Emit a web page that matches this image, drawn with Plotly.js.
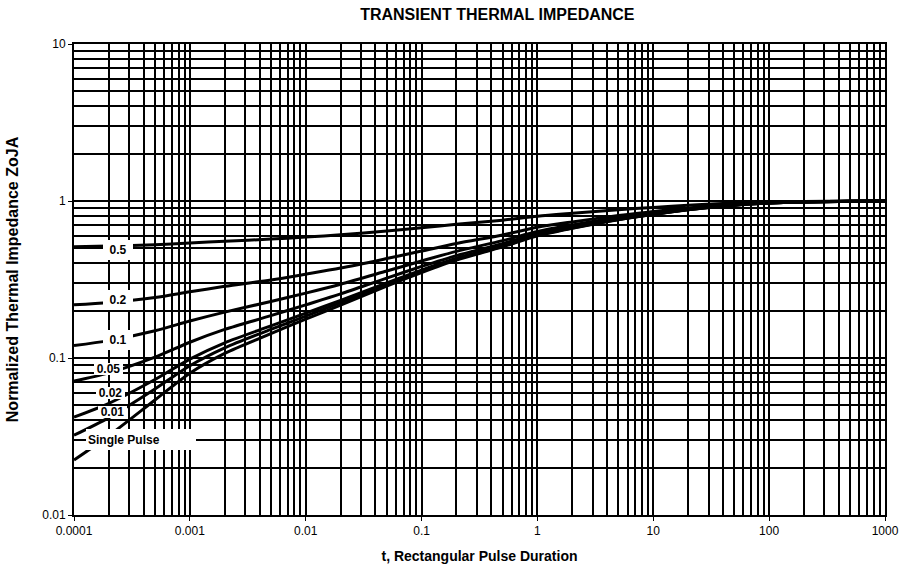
<!DOCTYPE html>
<html>
<head>
<meta charset="utf-8">
<script src="https://cdn.plot.ly/plotly-3.0.1.min.js"></script>
<style>html,body{margin:0;padding:0;background:#fff;}#chart{width:901px;height:568px;}</style>
</head>
<body>
<div id="chart"></div>
<script>
// Pulse duration (s)
const pulseT = [1e-4, 2e-4, 5e-4, 1e-3, 2e-3, 5e-3, 1e-2, 2e-2, 5e-2, 0.1, 0.2, 0.5, 1, 2, 5, 10, 20, 50, 100, 200, 500, 1000];
// Normalized thermal impedance, one series per duty cycle
const zD050 = [0.511, 0.516, 0.527, 0.540, 0.554, 0.572, 0.589, 0.609, 0.644, 0.675, 0.710, 0.755, 0.800, 0.835, 0.880, 0.910, 0.940, 0.970, 0.985, 0.993, 0.998, 1.0];
const zD020 = [0.218, 0.226, 0.243, 0.264, 0.286, 0.314, 0.342, 0.374, 0.430, 0.480, 0.536, 0.608, 0.680, 0.736, 0.808, 0.856, 0.904, 0.952, 0.976, 0.988, 0.996, 1.0];
const zD010 = [0.120, 0.129, 0.149, 0.172, 0.196, 0.229, 0.259, 0.295, 0.358, 0.415, 0.478, 0.559, 0.640, 0.703, 0.784, 0.838, 0.892, 0.946, 0.973, 0.987, 0.996, 1.0];
const zD005 = [0.0713, 0.0804, 0.1013, 0.126, 0.152, 0.186, 0.218, 0.256, 0.323, 0.383, 0.449, 0.535, 0.620, 0.687, 0.772, 0.829, 0.886, 0.943, 0.972, 0.986, 0.995, 1.0];
const zD002 = [0.042, 0.0514, 0.0729, 0.0984, 0.125, 0.160, 0.193, 0.233, 0.301, 0.363, 0.432, 0.520, 0.608, 0.677, 0.765, 0.824, 0.882, 0.941, 0.971, 0.985, 0.995, 1.0];
const zD001 = [0.0322, 0.0417, 0.0635, 0.0892, 0.116, 0.152, 0.185, 0.225, 0.294, 0.357, 0.426, 0.515, 0.604, 0.673, 0.762, 0.822, 0.881, 0.941, 0.970, 0.985, 0.995, 1.0];
const zSingle = [0.0224, 0.032, 0.054, 0.080, 0.107, 0.143, 0.177, 0.217, 0.287, 0.350, 0.420, 0.510, 0.600, 0.670, 0.760, 0.820, 0.880, 0.940, 0.970, 0.985, 0.995, 1.0];
const curveLabels = ['0.5', '0.2', '0.1', '0.05', '0.02', '0.01', 'Single Pulse'];
const xTickVals = [1e-4, 1e-3, 1e-2, 1e-1, 1, 10, 100, 1000];
const xTickText = ['0.0001', '0.001', '0.01', '0.1', '1', '10', '100', '1000'];
const yTickVals = [0.01, 0.1, 1, 10];
const yTickText = ['0.01', '0.1', '1', '10'];

const series = [zD050, zD020, zD010, zD005, zD002, zD001, zSingle];

function minorVals(lo, hi) {
  const out = [];
  for (let e = lo; e < hi; e++) {
    for (let d = 2; d <= 9; d++) out.push(d * Math.pow(10, e));
  }
  return out;
}

const traces = series.map((ys, i) => ({
  x: pulseT, y: ys, type: 'scatter', mode: 'lines', name: curveLabels[i],
  line: {color: '#000', width: 3, shape: 'spline', smoothing: 0.8},
  hoverinfo: 'skip', showlegend: false
}));

// label positions in log10 axis units
const labelPos = [
  {x: -3.620, y: -0.312, w: 26, h: 16, pad: 2, align: 'center'},
  {x: -3.620, y: -0.631, w: 26, h: 16, pad: 2, align: 'center'},
  {x: -3.620, y: -0.885, w: 26, h: 16, pad: 2, align: 'center'},
  {x: -3.698, y: -1.070, w: 27, h: 10, pad: 1, align: 'center'},
  {x: -3.689, y: -1.220, w: 27, h: 10, pad: 1, align: 'center'},
  {x: -3.668, y: -1.341, w: 27, h: 10, pad: 1, align: 'center'},
  {x: -3.422, y: -1.519, w: 106, h: 17, pad: 2, align: 'left'}
];

const labelFont = {family: 'Liberation Sans, Arial, sans-serif', size: 12, color: '#000', weight: 'bold'};

const annotations = curveLabels.map((t, i) => ({
  xref: 'x', yref: 'y', x: labelPos[i].x, y: labelPos[i].y,
  text: '<b>' + t + '</b>', showarrow: false,
  xanchor: 'center', yanchor: 'middle',
  bgcolor: '#fff', borderpad: labelPos[i].pad, borderwidth: 0,
  width: labelPos[i].w, height: labelPos[i].h, align: labelPos[i].align,
  font: labelFont
}));

const axisCommon = {
  type: 'log', showgrid: true, gridcolor: '#000', gridwidth: 2,
  showline: true, linecolor: '#000', linewidth: 2, mirror: true,
  ticks: 'outside', ticklen: 4, tickwidth: 1, tickcolor: '#000',
  tickmode: 'array', zeroline: false,
  tickfont: {family: 'Liberation Sans, Arial, sans-serif', size: 12, color: '#000'}
};

const layout = {
  width: 901, height: 568,
  margin: {l: 74, r: 16, t: 44, b: 53},
  paper_bgcolor: '#fff', plot_bgcolor: 'rgba(0,0,0,0)',
  title: {
    text: '<b>TRANSIENT THERMAL IMPEDANCE</b>',
    xref: 'paper', x: 0.522, xanchor: 'center',
    yref: 'container', y: 0.974, yanchor: 'middle',
    font: {family: 'Liberation Sans, Arial, sans-serif', size: 16, color: '#000'}
  },
  xaxis: Object.assign({}, axisCommon, {
    range: [-4, 3], tickvals: xTickVals, ticktext: xTickText,
    minor: {tickmode: 'array', tickvals: minorVals(-4, 3), showgrid: true, gridcolor: '#000', gridwidth: 2, ticks: ''},
    title: {text: '<b>t, Rectangular Pulse Duration</b>', standoff: 14,
      font: {family: 'Liberation Sans, Arial, sans-serif', size: 14, color: '#000'}}
  }),
  yaxis: Object.assign({}, axisCommon, {
    range: [-2, 1], tickvals: yTickVals, ticktext: yTickText,
    minor: {tickmode: 'array', tickvals: minorVals(-2, 1), showgrid: true, gridcolor: '#000', gridwidth: 2, ticks: ''},
    title: {text: '<b>Normalized Thermal Impedance ZoJA</b>', standoff: 20,
      font: {family: 'Liberation Sans, Arial, sans-serif', size: 16, color: '#000'}}
  }),
  annotations: annotations
};

Plotly.newPlot('chart', traces, layout, {staticPlot: true, displayModeBar: false});
</script>
</body>
</html>
